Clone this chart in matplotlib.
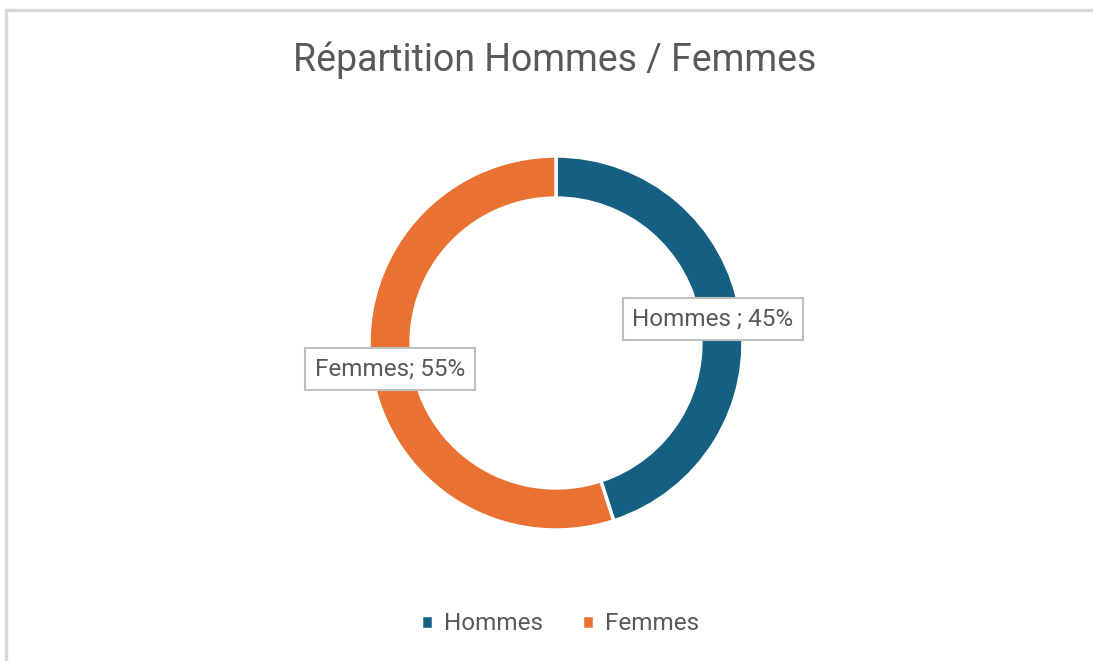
import matplotlib.pyplot as plt
from matplotlib.patches import Rectangle

# data
labels = ['Hommes', 'Femmes']
shares = [45, 55]
colors = ['#156082', '#E97132']
title = 'Répartition Hommes / Femmes'

W, H = 1093, 661
plt.rcParams['font.family'] = ['Roboto', 'DejaVu Sans']
fig = plt.figure(figsize=(W / 100, H / 100), dpi=100)
fig.patch.set_facecolor('white')

# light grey frame (top and left visible, the rest is cut off)
fig.add_artist(Rectangle((6 / W, -0.05), 1.1, (H - 10) / H + 0.05,
                         transform=fig.transFigure, fill=False,
                         edgecolor='#d9d9d9', linewidth=2.5))

# donut axes: center (556, 343) px, radius 187 px
r = 187
ax = fig.add_axes([(556 - r) / W, (H - 343 - r) / H, 2 * r / W, 2 * r / H])
wedges, _ = ax.pie(shares, colors=colors, startangle=90, counterclock=False,
                   radius=1, wedgeprops=dict(width=0.225, edgecolor='white', linewidth=2.5))
ax.set_xlim(-1, 1)
ax.set_ylim(-1, 1)
ax.set_aspect('equal')
ax.axis('off')

box = dict(boxstyle='square,pad=0.4', facecolor='white', edgecolor='#bfbfbf', linewidth=1.5)
ax.text(((713 - 556) / r), -(319 - 343) / r, 'Hommes ; 45%', ha='center', va='center',
        fontsize=17.5, color='#595959', bbox=box)
ax.text(((390 - 556) / r), -(369 - 343) / r, 'Femmes; 55%', ha='center', va='center',
        fontsize=17.5, color='#595959', bbox=box)

fig.text(555 / W, 1 - 60 / H, title, ha='center', va='center', fontsize=27, color='#595959')

leg = fig.legend(wedges, labels, loc='center', bbox_to_anchor=(560 / W, 1 - 624 / H),
                 ncol=2, frameon=False, fontsize=17.5, handlelength=0.5, handleheight=0.5,
                 handletextpad=0.45, columnspacing=1.6, labelcolor='#595959')

fig.savefig('out.png', dpi=100, facecolor='white')
